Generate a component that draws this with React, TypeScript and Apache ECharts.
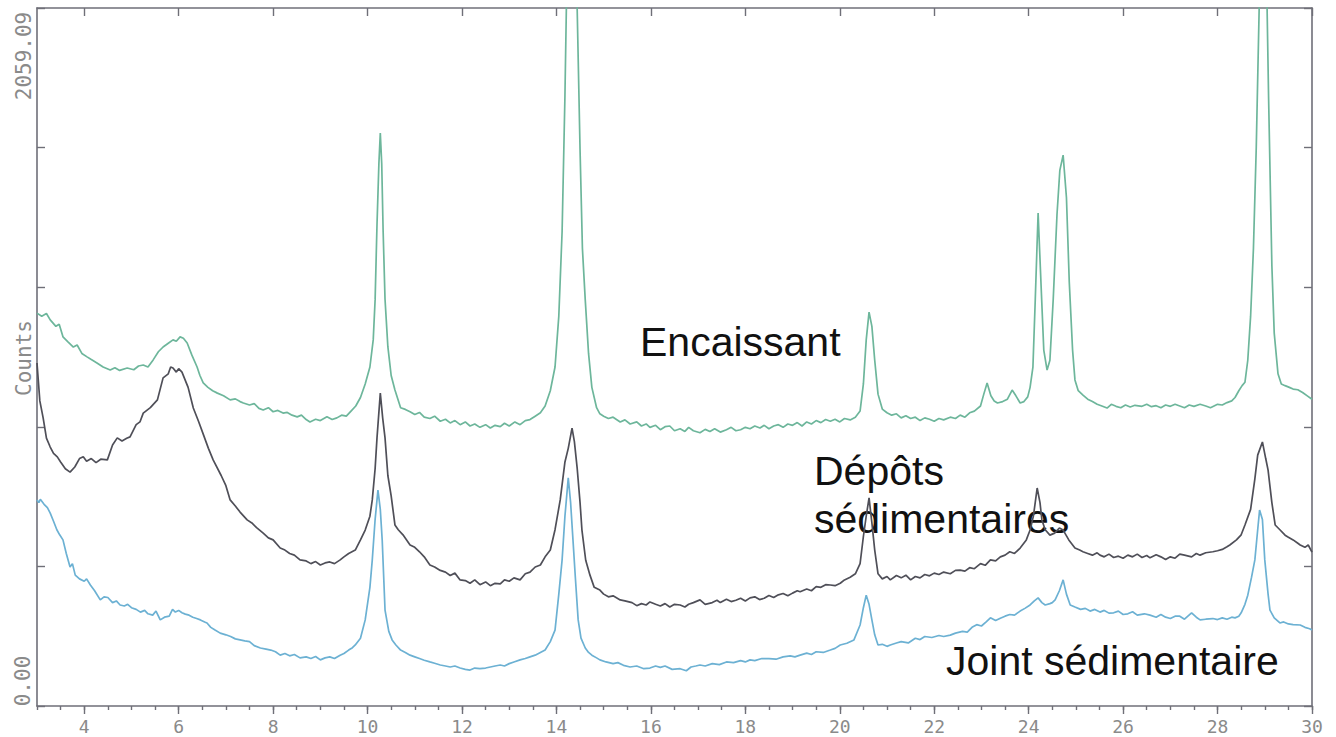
import React, { useEffect, useRef } from "react";
import * as echarts from "echarts";

const X_MIN = 3;
const X_MAX = 30;
const Y_MAX = 2059.09;
const xMajorTicks = [4, 6, 8, 10, 12, 14, 16, 18, 20, 22, 24, 26, 28, 30];
const yTickLabels = ["0.00", "2059.09"];
const yAxisName = "Counts";
const seriesNames = ["Encaissant", "Dépôts sédimentaires", "Joint sédimentaire"];

const encaissant: [number, number][] = [
  [3.0,1159],[3.1,1150],[3.2,1158],[3.28,1139],[3.4,1120],[3.47,1126],[3.55,1089],[3.65,1075],[3.77,1059],[3.85,1065],[3.95,1040],[4.06,1030],[4.15,1022],[4.27,1012],[4.4,1000],[4.55,991],[4.65,998],[4.75,990],[4.91,997],[5.05,992],[5.15,1003],[5.25,1006],[5.35,1000],[5.46,1021],[5.57,1045],[5.67,1059],[5.78,1070],[5.88,1080],[5.95,1076],[6.03,1089],[6.1,1085],[6.18,1071],[6.28,1035],[6.39,1000],[6.45,975],[6.52,953],[6.62,940],[6.72,930],[6.82,923],[6.95,915],[7.09,903],[7.2,906],[7.3,898],[7.37,894],[7.5,888],[7.6,892],[7.7,878],[7.79,873],[7.9,880],[8.0,868],[8.1,872],[8.21,864],[8.3,866],[8.4,858],[8.51,853],[8.6,858],[8.7,845],[8.78,838],[8.9,846],[9.0,842],[9.14,853],[9.25,845],[9.35,850],[9.45,858],[9.55,855],[9.65,870],[9.75,885],[9.85,910],[9.95,950],[10.05,1000],[10.12,1080],[10.16,1198],[10.2,1420],[10.24,1600],[10.27,1690],[10.3,1600],[10.33,1400],[10.37,1200],[10.43,1060],[10.5,975],[10.58,932],[10.7,880],[10.8,875],[10.9,868],[11.0,860],[11.1,866],[11.2,852],[11.32,848],[11.42,855],[11.54,840],[11.65,846],[11.75,835],[11.85,842],[11.96,830],[12.07,838],[12.17,826],[12.27,832],[12.38,822],[12.5,830],[12.6,820],[12.7,828],[12.81,824],[12.9,834],[13.0,826],[13.12,838],[13.23,830],[13.34,842],[13.44,845],[13.55,855],[13.66,865],[13.76,885],[13.87,930],[13.97,1000],[14.05,1150],[14.12,1400],[14.18,1800],[14.25,2400],[14.3,2700],[14.38,2400],[14.44,2050],[14.5,1640],[14.55,1350],[14.61,1198],[14.68,1040],[14.75,940],[14.85,880],[14.92,862],[15.0,855],[15.1,848],[15.2,852],[15.35,838],[15.45,844],[15.56,832],[15.7,838],[15.8,826],[15.9,832],[15.98,822],[16.1,828],[16.2,815],[16.3,824],[16.4,826],[16.5,812],[16.62,818],[16.72,810],[16.8,822],[16.9,812],[17.04,806],[17.15,816],[17.25,810],[17.35,818],[17.47,808],[17.6,815],[17.7,822],[17.8,812],[17.9,815],[18.0,822],[18.1,818],[18.2,826],[18.31,820],[18.4,828],[18.5,818],[18.6,826],[18.7,830],[18.8,822],[18.9,832],[19.0,828],[19.1,836],[19.2,826],[19.3,838],[19.4,832],[19.5,842],[19.6,836],[19.7,845],[19.8,840],[19.9,846],[20.0,838],[20.1,848],[20.22,844],[20.33,852],[20.43,870],[20.5,950],[20.56,1080],[20.62,1162],[20.68,1120],[20.74,1020],[20.81,920],[20.9,876],[21.0,865],[21.1,858],[21.2,862],[21.3,850],[21.4,856],[21.5,848],[21.6,852],[21.7,842],[21.8,850],[21.9,846],[22.0,840],[22.1,848],[22.2,844],[22.34,852],[22.45,848],[22.55,858],[22.65,852],[22.75,865],[22.85,870],[22.98,885],[23.05,920],[23.12,953],[23.2,915],[23.27,900],[23.34,894],[23.45,898],[23.55,905],[23.65,932],[23.73,915],[23.82,894],[23.9,898],[23.98,912],[24.03,940],[24.09,1000],[24.14,1200],[24.2,1454],[24.26,1250],[24.32,1050],[24.39,991],[24.45,1020],[24.52,1200],[24.6,1450],[24.66,1580],[24.73,1625],[24.8,1500],[24.86,1250],[24.93,1050],[24.98,962],[25.05,930],[25.15,917],[25.25,905],[25.35,898],[25.45,890],[25.55,885],[25.66,879],[25.75,890],[25.85,884],[25.95,880],[26.05,888],[26.15,882],[26.25,887],[26.4,884],[26.5,890],[26.6,883],[26.7,886],[26.8,880],[26.9,888],[27.0,884],[27.1,890],[27.2,885],[27.3,880],[27.4,888],[27.5,884],[27.63,890],[27.75,885],[27.85,880],[28.0,890],[28.1,888],[28.2,895],[28.3,900],[28.37,910],[28.45,930],[28.52,945],[28.58,955],[28.64,1020],[28.7,1150],[28.76,1350],[28.82,1650],[28.88,2050],[28.95,2500],[29.02,2300],[29.08,1800],[29.15,1300],[29.2,1100],[29.28,980],[29.35,950],[29.43,945],[29.52,940],[29.6,935],[29.7,933],[29.8,925],[29.9,915],[30.0,905]
];

const depots: [number, number][] = [
  [3.0,1012],[3.06,900],[3.13,850],[3.2,790],[3.28,764],[3.35,745],[3.43,735],[3.5,720],[3.6,700],[3.7,690],[3.8,705],[3.9,730],[3.98,735],[4.05,722],[4.15,730],[4.25,718],[4.35,728],[4.49,726],[4.6,770],[4.7,791],[4.8,782],[4.9,790],[4.97,794],[5.1,830],[5.18,838],[5.25,864],[5.4,880],[5.55,903],[5.67,968],[5.78,980],[5.83,1000],[5.88,997],[5.95,985],[6.0,995],[6.07,985],[6.2,940],[6.31,879],[6.42,840],[6.52,802],[6.63,760],[6.73,726],[6.9,680],[7.0,650],[7.09,608],[7.2,590],[7.3,572],[7.45,549],[7.55,540],[7.65,526],[7.79,510],[7.9,496],[8.0,490],[8.15,466],[8.25,460],[8.35,450],[8.45,445],[8.57,431],[8.7,428],[8.8,420],[8.9,426],[9.0,416],[9.1,422],[9.2,425],[9.3,420],[9.42,431],[9.5,440],[9.6,450],[9.74,460],[9.85,490],[9.95,519],[10.05,560],[10.1,608],[10.16,700],[10.2,791],[10.27,923],[10.32,850],[10.37,791],[10.43,680],[10.5,620],[10.58,534],[10.65,520],[10.75,505],[10.9,475],[11.0,468],[11.1,455],[11.2,440],[11.32,416],[11.42,410],[11.54,400],[11.65,395],[11.75,385],[11.85,392],[11.96,372],[12.07,370],[12.17,362],[12.27,372],[12.38,358],[12.5,366],[12.6,355],[12.7,362],[12.81,360],[12.9,372],[13.0,368],[13.1,378],[13.23,372],[13.34,390],[13.44,395],[13.55,410],[13.66,416],[13.76,440],[13.87,460],[13.97,520],[14.08,608],[14.18,720],[14.25,760],[14.33,820],[14.38,780],[14.44,700],[14.5,600],[14.54,519],[14.62,430],[14.71,386],[14.8,350],[14.92,342],[15.0,330],[15.1,322],[15.2,325],[15.35,313],[15.45,310],[15.6,305],[15.7,296],[15.8,302],[15.9,298],[15.98,307],[16.1,300],[16.2,295],[16.3,302],[16.4,292],[16.5,300],[16.62,298],[16.72,292],[16.8,300],[16.9,305],[17.04,313],[17.15,300],[17.3,305],[17.4,312],[17.47,305],[17.6,315],[17.7,308],[17.8,312],[17.9,318],[18.0,310],[18.1,319],[18.2,322],[18.3,314],[18.4,318],[18.5,326],[18.6,320],[18.7,328],[18.8,332],[18.9,325],[19.0,333],[19.1,340],[19.16,337],[19.3,345],[19.4,340],[19.5,352],[19.6,350],[19.7,358],[19.8,357],[19.9,355],[20.01,362],[20.1,372],[20.22,380],[20.33,390],[20.43,420],[20.5,500],[20.56,560],[20.62,614],[20.68,540],[20.74,460],[20.81,390],[20.9,375],[21.0,382],[21.07,372],[21.2,385],[21.3,378],[21.4,386],[21.5,372],[21.6,382],[21.7,378],[21.8,388],[21.9,384],[22.0,392],[22.1,388],[22.2,395],[22.34,390],[22.45,400],[22.55,401],[22.65,398],[22.75,408],[22.85,405],[22.98,420],[23.08,415],[23.19,431],[23.3,428],[23.4,440],[23.5,445],[23.6,455],[23.7,450],[23.82,466],[23.95,490],[24.03,519],[24.1,560],[24.18,643],[24.24,600],[24.28,549],[24.35,520],[24.45,504],[24.55,510],[24.65,525],[24.73,519],[24.85,490],[24.98,466],[25.08,460],[25.15,455],[25.25,450],[25.35,445],[25.45,452],[25.51,445],[25.6,440],[25.7,448],[25.8,438],[25.9,442],[26.0,436],[26.1,445],[26.2,440],[26.3,448],[26.4,438],[26.5,444],[26.57,437],[26.7,446],[26.8,440],[26.9,432],[27.0,440],[27.1,436],[27.2,448],[27.3,445],[27.45,440],[27.55,450],[27.63,445],[27.75,452],[27.9,455],[28.0,458],[28.1,462],[28.2,470],[28.26,475],[28.4,490],[28.5,505],[28.58,534],[28.7,580],[28.79,670],[28.85,740],[28.95,779],[29.02,730],[29.07,696],[29.15,600],[29.22,534],[29.32,520],[29.43,504],[29.5,498],[29.6,490],[29.7,480],[29.75,475],[29.85,468],[29.92,475],[30.0,454]
];

const joint: [number, number][] = [
  [3.0,608],[3.04,600],[3.07,610],[3.15,595],[3.22,585],[3.28,569],[3.35,545],[3.42,520],[3.48,505],[3.55,490],[3.62,450],[3.7,410],[3.75,420],[3.81,386],[3.9,375],[4.0,368],[4.05,375],[4.13,357],[4.22,340],[4.34,313],[4.42,322],[4.5,320],[4.6,305],[4.68,310],[4.76,298],[4.85,295],[4.92,300],[5.0,290],[5.1,285],[5.19,277],[5.28,282],[5.35,272],[5.45,268],[5.52,280],[5.61,254],[5.7,262],[5.8,265],[5.87,285],[5.93,277],[6.0,282],[6.07,275],[6.14,271],[6.22,268],[6.3,262],[6.38,258],[6.46,254],[6.55,248],[6.6,245],[6.68,232],[6.77,224],[6.88,215],[7.0,210],[7.1,205],[7.2,198],[7.3,195],[7.4,192],[7.5,190],[7.6,178],[7.73,171],[7.85,168],[7.95,165],[8.05,160],[8.15,150],[8.25,155],[8.35,148],[8.45,152],[8.57,142],[8.7,145],[8.8,140],[8.9,146],[9.0,136],[9.1,142],[9.2,145],[9.3,140],[9.42,150],[9.5,155],[9.6,165],[9.68,172],[9.74,180],[9.85,200],[9.95,254],[10.05,350],[10.1,431],[10.16,550],[10.22,637],[10.27,580],[10.31,490],[10.37,283],[10.45,220],[10.52,195],[10.6,180],[10.7,165],[10.8,158],[10.9,150],[11.0,145],[11.1,140],[11.2,135],[11.32,130],[11.42,126],[11.54,121],[11.65,118],[11.75,115],[11.85,118],[11.96,112],[12.07,108],[12.17,106],[12.27,112],[12.38,110],[12.5,112],[12.6,115],[12.7,118],[12.81,121],[12.9,118],[13.0,125],[13.1,130],[13.23,136],[13.34,140],[13.44,145],[13.55,150],[13.66,158],[13.76,165],[13.87,190],[13.97,224],[14.05,330],[14.12,431],[14.18,560],[14.25,673],[14.3,600],[14.35,490],[14.4,380],[14.46,254],[14.52,200],[14.61,171],[14.68,158],[14.75,150],[14.85,142],[14.92,136],[15.05,130],[15.2,125],[15.3,128],[15.42,120],[15.56,115],[15.7,118],[15.85,110],[15.98,112],[16.1,118],[16.2,114],[16.3,118],[16.45,108],[16.62,110],[16.75,104],[16.85,115],[16.95,118],[17.04,121],[17.15,118],[17.3,125],[17.45,122],[17.6,130],[17.75,128],[17.9,134],[18.0,130],[18.1,136],[18.2,134],[18.35,140],[18.5,140],[18.65,138],[18.8,145],[18.95,148],[19.05,145],[19.16,150],[19.3,156],[19.4,152],[19.5,160],[19.65,158],[19.8,165],[19.9,170],[20.01,180],[20.15,185],[20.3,195],[20.43,239],[20.5,290],[20.56,327],[20.62,300],[20.68,254],[20.74,210],[20.81,180],[20.9,182],[21.0,176],[21.07,180],[21.2,186],[21.3,190],[21.45,186],[21.6,200],[21.7,196],[21.8,205],[21.95,202],[22.1,208],[22.2,205],[22.34,209],[22.45,215],[22.6,220],[22.7,218],[22.8,232],[22.9,240],[23.0,236],[23.1,248],[23.19,260],[23.3,252],[23.4,259],[23.5,265],[23.6,270],[23.7,268],[23.82,280],[23.92,288],[24.03,298],[24.12,310],[24.2,319],[24.28,305],[24.35,298],[24.45,302],[24.5,305],[24.56,313],[24.65,340],[24.73,372],[24.8,330],[24.88,298],[24.98,292],[25.1,285],[25.2,288],[25.3,280],[25.4,285],[25.51,277],[25.6,282],[25.7,274],[25.8,275],[25.9,280],[26.0,270],[26.1,272],[26.2,278],[26.3,268],[26.45,272],[26.57,268],[26.7,262],[26.8,270],[26.9,262],[27.0,258],[27.1,265],[27.2,265],[27.3,256],[27.45,275],[27.55,262],[27.63,254],[27.75,256],[27.9,258],[28.0,255],[28.1,260],[28.2,256],[28.3,262],[28.37,260],[28.45,265],[28.5,275],[28.58,300],[28.64,327],[28.72,380],[28.79,431],[28.85,520],[28.89,578],[28.95,550],[29.0,431],[29.07,330],[29.11,283],[29.2,260],[29.32,245],[29.4,248],[29.5,242],[29.6,240],[29.75,239],[29.85,232],[29.95,228],[30.0,224]
];

const AXIS_COLOR = "#6f6f78";
const LABEL_COLOR = "#8a8a8a";
const MONO = "'DejaVu Sans Mono', monospace";
const SANS = "'Liberation Sans', Arial, sans-serif";

export default function App() {
  const ref = useRef<HTMLDivElement>(null);

  useEffect(() => {
    document.body.style.margin = "0";
    if (!ref.current) return;
    const chart = echarts.init(ref.current, null, { renderer: "svg" });

    const labelText = (text: string, x: number, y: number) => ({
      type: "text",
      x,
      y,
      silent: true,
      style: {
        text,
        font: `41px ${SANS}`,
        fill: "#111111",
        align: "left",
        verticalAlign: "middle",
        textAlign: "left",
        textVerticalAlign: "middle",
      },
    });
    const rotText = (text: string, x: number, y: number) => ({
      type: "text",
      x,
      y,
      rotation: Math.PI / 2,
      silent: true,
      style: {
        text,
        font: `21px ${MONO}`,
        fill: LABEL_COLOR,
        align: "center",
        verticalAlign: "middle",
        textAlign: "center",
        textVerticalAlign: "middle",
      },
    });

    const lineSeries = (name: string, data: [number, number][], color: string) => ({
      type: "line",
      name,
      data,
      showSymbol: false,
      symbol: "none",
      clip: true,
      lineStyle: { color, width: 1.7 },
      emphasis: { disabled: true },
    });

    chart.setOption({
      animation: false,
      backgroundColor: "#ffffff",
      grid: { left: 37, right: 24, top: 8, bottom: 31, containLabel: false },
      xAxis: [
        {
          type: "value",
          position: "bottom",
          min: X_MIN,
          max: X_MAX,
          interval: 0.5,
          axisLine: { show: true, lineStyle: { color: AXIS_COLOR, width: 1.6 } },
          axisTick: { show: true, inside: false, length: 4, lineStyle: { color: AXIS_COLOR, width: 1.4 } },
          axisLabel: { show: false },
          splitLine: { show: false },
        },
        {
          type: "value",
          position: "bottom",
          min: X_MIN,
          max: X_MAX,
          axisLine: { show: false },
          axisTick: {
            show: true,
            inside: false,
            length: 8,
            customValues: xMajorTicks,
            lineStyle: { color: AXIS_COLOR, width: 1.4 },
          },
          axisLabel: {
            show: true,
            customValues: xMajorTicks,
            formatter: (v: number) => String(v),
            color: LABEL_COLOR,
            fontFamily: MONO,
            fontSize: 18,
            margin: 11,
          },
          splitLine: { show: false },
        },
        {
          type: "value",
          position: "top",
          min: X_MIN,
          max: X_MAX,
          axisLine: { show: true, lineStyle: { color: AXIS_COLOR, width: 1.6 } },
          axisTick: {
            show: true,
            inside: true,
            length: 8,
            customValues: xMajorTicks,
            lineStyle: { color: AXIS_COLOR, width: 1.4 },
          },
          axisLabel: { show: false },
          splitLine: { show: false },
        },
      ],
      yAxis: [
        {
          type: "value",
          position: "left",
          min: 0,
          max: Y_MAX,
          interval: Y_MAX / 5,
          axisLine: { show: true, lineStyle: { color: AXIS_COLOR, width: 1.6 } },
          axisTick: { show: true, inside: true, length: 8, lineStyle: { color: AXIS_COLOR, width: 1.4 } },
          axisLabel: { show: false },
          splitLine: { show: false },
        },
        {
          type: "value",
          position: "right",
          min: 0,
          max: Y_MAX,
          interval: Y_MAX / 5,
          axisLine: { show: true, lineStyle: { color: AXIS_COLOR, width: 1.6 } },
          axisTick: { show: true, inside: true, length: 8, lineStyle: { color: AXIS_COLOR, width: 1.4 } },
          axisLabel: { show: false },
          splitLine: { show: false },
        },
      ],
      series: [
        lineSeries(seriesNames[0], encaissant, "#6db69b"),
        lineSeries(seriesNames[1], depots, "#4f4f58"),
        lineSeries(seriesNames[2], joint, "#6cb1d3"),
      ],
      graphic: [
        rotText(yTickLabels[1], 24, 56),
        rotText(yAxisName, 24, 358),
        rotText(yTickLabels[0], 23, 681),
        labelText(seriesNames[0], 640, 342),
        labelText("Dépôts", 814, 471),
        labelText("sédimentaires", 814, 519),
        labelText(seriesNames[2], 946, 661),
      ],
    });

    return () => chart.dispose();
  }, []);

  return <div ref={ref} style={{ width: 1336, height: 737 }} />;
}
